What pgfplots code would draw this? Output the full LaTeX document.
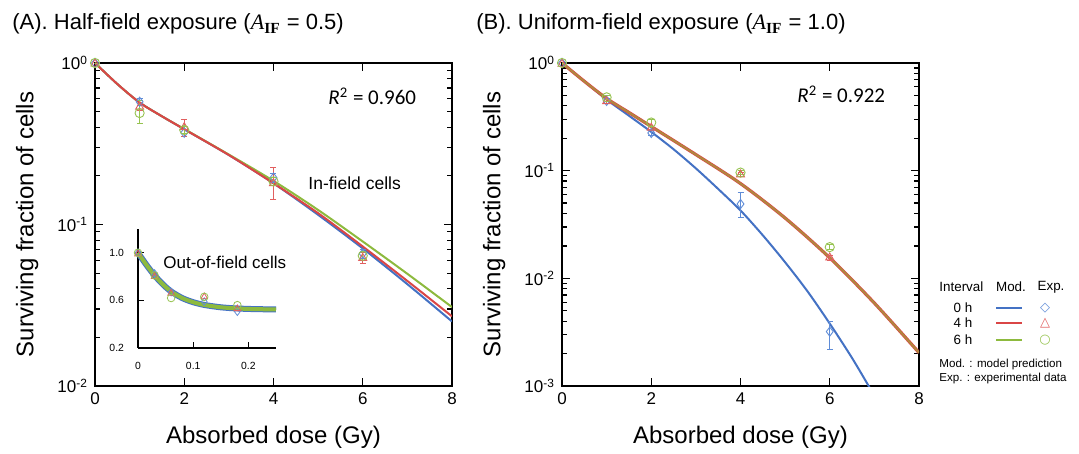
\documentclass[border=0pt]{standalone}
\usepackage{pgfplots}
\pgfplotsset{compat=1.18}
\usepackage{fontspec}
\setmainfont{Liberation Sans}
\newfontfamily\tnr{Liberation Serif}
\newfontfamily\calibri{Carlito}
\newfontfamily\djv{DejaVu Sans}

\definecolor{cblue}{RGB}{68,114,196}
\definecolor{cred}{RGB}{218,70,70}
\definecolor{cgreen}{RGB}{141,186,62}
\definecolor{cbrown}{RGB}{176,136,62}
\definecolor{mblue}{RGB}{95,140,215}
\definecolor{mred}{RGB}{225,95,95}
\definecolor{mgreen}{RGB}{150,195,80}

\pgfplotsset{
  sfaxis/.style={
    scale only axis,
    width=178.5pt, height=161.5pt,
    axis line style={line width=0.75pt},
    tick style={black, line width=0.6pt},
    major tick length=4pt, minor tick length=2.5pt,
    tick label style={font=\fontsize{8.5}{10}\selectfont},
    label style={font=\fontsize{12}{14}\selectfont},
    /pgf/number format/assume math mode=true,
    xmin=0, xmax=8, xtick={0,2,4,6,8},
    xlabel={Absorbed dose (Gy)},
    ylabel={Surviving fraction of cells},
    xlabel style={at={(axis description cs:0.5,-0.158)}, anchor=center},
    ylabel style={at={(axis description cs:-0.19,0.5)}, anchor=center},
  },
  pts/.style={only marks, #1, mark size=2.3pt, line width=0.45pt,
    error bars/y dir=both, error bars/y explicit,
    error bars/error bar style={line width=0.45pt, #1},
    error bars/error mark options={rotate=90, mark size=1.5pt, line width=0.45pt, #1}},
}

\begin{document}
\begin{tikzpicture}
\useasboundingbox (0,0) rectangle (539.5pt,227pt);

% titles
\node[anchor=base west, inner sep=0pt, font=\fontsize{11}{13}\selectfont] at (6pt,212pt)
  {(A). Half-field exposure ({\tnr\textit{A}\textsubscript{\textbf{IF}}} = 0.5)};
\node[anchor=base west, inner sep=0pt, font=\fontsize{11}{13}\selectfont] at (238pt,212pt)
  {(B). Uniform-field exposure ({\tnr\textit{A}\textsubscript{\textbf{IF}}} = 1.0)};

% ---------------- panel A
\begin{axis}[sfaxis, ymode=log, at={(47.5pt,34pt)}, anchor=south west,
  ymin=0.01, ymax=1,
  ytick={0.01,0.1,1},
  yticklabels={10\textsuperscript{-2},10\textsuperscript{-1},10\textsuperscript{0}},
]
\addplot[cblue, line width=1pt, smooth] coordinates {
(0,1)(0.5,0.7413)(1,0.5689)(1.5,0.4677)(2,0.3890)(3,0.2692)(4,0.1799)(5,0.1148)(6,0.0711)(7,0.0427)(8,0.0251)};
\addplot[cgreen, line width=1pt, smooth] coordinates {
(0,1)(0.5,0.7413)(1,0.5689)(1.5,0.4677)(2,0.3900)(3,0.2710)(4,0.1862)(5,0.1230)(6,0.0785)(7,0.0495)(8,0.0308)};
\addplot[cred, line width=1pt, smooth] coordinates {
(0,1)(0.5,0.7413)(1,0.5689)(1.5,0.4677)(2,0.3890)(3,0.2692)(4,0.1799)(5,0.1175)(6,0.0731)(7,0.0447)(8,0.0270)};

\addplot[pts=mblue, mark=diamond] table[x=x, y=y, y error plus=ep, y error minus=em] {
x y ep em
0 1.0 0 0
1 0.575 0.03 0.03
2 0.37 0.02 0.02
4 0.195 0.012 0.012
6 0.066 0.004 0.004
};
\addplot[pts=mred, mark=triangle] table[x=x, y=y, y error plus=ep, y error minus=em] {
x y ep em
0 0.99 0 0
1 0.535 0.03 0.03
2 0.40 0.045 0.05
4 0.18 0.045 0.037
6 0.062 0.005 0.005
};
\addplot[pts=mgreen, mark=o] table[x=x, y=y, y error plus=ep, y error minus=em] {
x y ep em
0 1.0 0 0
1 0.49 0.10 0.07
2 0.385 0.02 0.02
4 0.185 0.01 0.01
6 0.064 0.004 0.004
};
\end{axis}

\node[anchor=base west, inner sep=0pt, font=\fontsize{10.5}{12}\selectfont\calibri] at (164pt,174.5pt)
  {\textit{R}\textsuperscript{2} = 0.960};
\node[anchor=west, inner sep=0pt, font=\fontsize{8.75}{10}\selectfont] at (154pt,135.5pt) {In-field cells};
\node[anchor=west, inner sep=0pt, font=\fontsize{8.5}{10}\selectfont] at (81.5pt,96pt) {Out-of-field cells};

% inset
\begin{axis}[scale only axis, at={(69pt,53pt)}, anchor=south west,
  width=69pt, height=59.5pt,
  xmin=0, xmax=0.25, ymin=0.2, ymax=1.2,
  axis x line*=bottom, axis y line*=left,
  axis line style={line width=0.7pt, -},
  tick style={black, line width=0.5pt}, major tick length=3pt,
  xtick={0,0.1,0.2}, xticklabels={0,0.1,0.2},
  ytick={0.2,0.6,1.0}, yticklabels={0.2,0.6,1.0},
  tick label style={font=\fontsize{5.2}{6}\selectfont},
  xticklabel style={yshift=-3.5pt},
  yticklabel style={xshift=-3.5pt},
  clip=false,
]
\addplot[cblue, line width=3pt, smooth] coordinates {
(0,1.0)(0.015,0.90)(0.03,0.81)(0.045,0.735)(0.06,0.675)(0.08,0.62)(0.1,0.585)(0.12,0.562)(0.15,0.542)(0.18,0.532)(0.21,0.527)(0.25,0.524)};
\addplot[cgreen, line width=2pt, smooth] coordinates {
(0,1.0)(0.015,0.90)(0.03,0.81)(0.045,0.735)(0.06,0.675)(0.08,0.62)(0.1,0.585)(0.12,0.562)(0.15,0.542)(0.18,0.532)(0.21,0.527)(0.25,0.524)};
\addplot[only marks, mblue, mark=diamond, mark size=1.9pt, line width=0.4pt] coordinates {
(0,1.0)(0.03,0.826)(0.06,0.67)(0.12,0.59)(0.18,0.505)};
\addplot[only marks, mred, mark=triangle, mark size=1.9pt, line width=0.4pt] coordinates {
(0,0.99)(0.03,0.80)(0.06,0.66)(0.12,0.63)(0.18,0.53)};
\addplot[only marks, mgreen, mark=o, mark size=1.9pt, line width=0.4pt] coordinates {
(0,1.0)(0.03,0.81)(0.06,0.62)(0.12,0.63)(0.18,0.56)};
\end{axis}

% ---------------- panel B
\begin{axis}[sfaxis, ymode=log, at={(281pt,34pt)}, anchor=south west,
  ymin=0.001, ymax=1,
  ytick={0.001,0.01,0.1,1},
  yticklabels={10\textsuperscript{-3},10\textsuperscript{-2},10\textsuperscript{-1},10\textsuperscript{0}},
]
\addplot[cblue, line width=1pt, smooth] coordinates {
(0,1)(0.5,0.676)(1,0.457)(1.5,0.324)(2,0.229)(2.5,0.158)(3,0.105)(3.5,0.0676)(4,0.0427)(4.5,0.0251)(5,0.0141)(5.5,0.00759)(6,0.00380)(6.5,0.00182)(6.9,0.000955)};
\addplot[cred, line width=1.6pt, smooth] coordinates {
(0,1)(0.5,0.676)(1,0.468)(1.5,0.347)(2,0.257)(3,0.141)(4,0.0759)(5,0.0363)(6,0.0155)(7,0.00589)(8,0.00204)};
\addplot[cbrown, line width=1pt, smooth] coordinates {
(0,1)(0.5,0.676)(1,0.468)(1.5,0.347)(2,0.257)(3,0.141)(4,0.0759)(5,0.0363)(6,0.0155)(7,0.00589)(8,0.00204)};

\addplot[pts=mblue, mark=diamond] table[x=x, y=y, y error plus=ep, y error minus=em] {
x y ep em
0 1.0 0 0
1 0.445 0.02 0.02
2 0.224 0.012 0.012
4 0.049 0.014 0.012
6 0.0032 0.0008 0.001
};
\addplot[pts=mred, mark=triangle] table[x=x, y=y, y error plus=ep, y error minus=em] {
x y ep em
0 0.98 0 0
1 0.44 0.02 0.02
2 0.25 0.01 0.01
4 0.092 0.004 0.004
6 0.0156 0.0008 0.0008
};
\addplot[pts=mgreen, mark=o] table[x=x, y=y, y error plus=ep, y error minus=em] {
x y ep em
0 1.0 0 0
1 0.48 0.02 0.02
2 0.28 0.02 0.02
4 0.096 0.004 0.004
6 0.0195 0.001 0.001
};
\end{axis}

\node[anchor=base west, inner sep=0pt, font=\fontsize{10.5}{12}\selectfont\calibri] at (398.5pt,175.5pt)
  {\textit{R}\textsuperscript{2} = 0.922};

% legend
\begin{scope}[font=\fontsize{6.7}{8}\selectfont]
\node[anchor=west, inner sep=0pt] at (469.5pt,83.5pt) {Interval};
\node[anchor=center, inner sep=0pt] at (505.5pt,83.5pt) {Mod.};
\node[anchor=center, inner sep=0pt] at (525.5pt,83.5pt) {Exp.};
\node[anchor=center, inner sep=0pt] at (481.5pt,73pt) {0 h};
\node[anchor=center, inner sep=0pt] at (481.5pt,65.5pt) {4 h};
\node[anchor=center, inner sep=0pt] at (481.5pt,57pt) {6 h};
\draw[cblue, line width=1pt] (498pt,73pt) -- (511pt,73pt);
\draw[cred, line width=1pt] (498pt,65.5pt) -- (511pt,65.5pt);
\draw[cgreen, line width=1pt] (498pt,57pt) -- (511pt,57pt);
\node[anchor=center, inner sep=0pt, text=mblue, font=\djv\fontsize{6.5}{8}\selectfont] at (522.5pt,73pt) {◇};
\node[anchor=center, inner sep=0pt, text=mred, font=\djv\fontsize{6.5}{8}\selectfont] at (522.5pt,65.5pt) {△};
\node[anchor=center, inner sep=0pt, text=mgreen, font=\djv\fontsize{6.5}{8}\selectfont] at (522.5pt,57pt) {○};
\end{scope}
\node[anchor=west, inner sep=0pt, font=\fontsize{5.8}{7}\selectfont] at (469.5pt,44.5pt) {Mod. : model prediction};
\node[anchor=west, inner sep=0pt, font=\fontsize{5.8}{7}\selectfont] at (469.5pt,37.5pt) {Exp. : experimental data};
\end{tikzpicture}
\end{document}
